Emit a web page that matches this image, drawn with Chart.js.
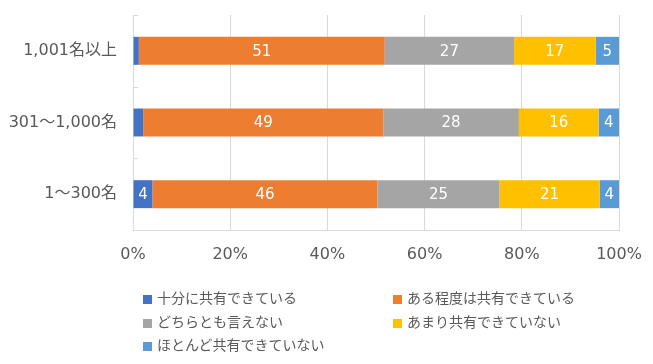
<!DOCTYPE html>
<html lang="ja">
<head>
<meta charset="utf-8">
<script src="https://cdn.jsdelivr.net/npm/chart.js@4/dist/chart.umd.min.js"></script>
<style>
    html, body { margin: 0; padding: 0; background: #fff; }
    #wrap { position: relative; width: 653px; height: 364px; }
    #legend {
        position: absolute; left: 143px; top: 286px;
        display: grid; grid-template-columns: 250px 250px; row-gap: 0;
        font: 14px "Noto Sans CJK JP", sans-serif; color: #595959;
    }
    #legend div { height: 23.5px; line-height: 23.5px; white-space: nowrap; }
    #legend span.box { display: inline-block; width: 9px; height: 9px; margin-right: 5px; vertical-align: -1px; }
</style>
</head>
<body>
<div id="wrap">
    <canvas id="chart" width="653" height="364"></canvas>
    <div id="legend"></div>
</div>
<script>
// categories (top to bottom)
const categories = ['1,001名以上', '301～1,000名', '1～300名'];

// series values, %
const fullyShared = [1.2, 2.1, 4.0];
const somewhatShared = [50.6, 49.4, 46.3];
const neither = [26.6, 27.9, 25.1];
const notMuchShared = [16.8, 16.4, 20.6];
const hardlyShared = [4.8, 4.2, 4.0];

const seriesNames = ['十分に共有できている', 'ある程度は共有できている', 'どちらとも言えない', 'あまり共有できていない', 'ほとんど共有できていない'];
const seriesColors = ['#4472C4', '#ED7D31', '#A5A5A5', '#FFC000', '#5B9BD5'];
const seriesValues = [fullyShared, somewhatShared, neither, notMuchShared, hardlyShared];

const xTicks = [0, 20, 40, 60, 80, 100];

const FONT = '"DejaVu Sans", "Noto Sans CJK JP", sans-serif';
const TEXT = '#595959';
const LINE = '#D9D9D9';

// white value labels inside the bars
const barLabels = {
    id: 'barLabels',
    afterDatasetsDraw(chart) {
        const ctx = chart.ctx;
        ctx.save();
        ctx.font = `15px ${FONT}`;
        ctx.fillStyle = '#fff';
        ctx.textAlign = 'center';
        ctx.textBaseline = 'middle';
        chart.data.datasets.forEach((ds, i) => {
            chart.getDatasetMeta(i).data.forEach((el, j) => {
                const v = ds.data[j];
                if (v < 3) return;
                ctx.fillText(String(Math.round(v)), (el.x + el.base) / 2, el.y + 1);
            });
        });
        ctx.restore();
    }
};

// short tick marks between categories, inside the plot
const catTicks = {
    id: 'catTicks',
    afterDraw(chart) {
        const y = chart.scales.y;
        const left = chart.chartArea.left;
        const step = (y.bottom - y.top) / categories.length;
        const ctx = chart.ctx;
        ctx.save();
        ctx.strokeStyle = LINE;
        ctx.lineWidth = 1;
        ctx.beginPath();
        for (let i = 0; i <= categories.length; i++) {
            const py = Math.round(y.top + i * step) + 0.5;
            ctx.moveTo(left, py);
            ctx.lineTo(left + 5, py);
        }
        ctx.stroke();
        ctx.restore();
    }
};

const chart = new Chart(document.getElementById('chart').getContext('2d'), {
    type: 'bar',
    data: {
        labels: categories,
        datasets: seriesNames.map((name, i) => ({
            label: name,
            data: seriesValues[i],
            backgroundColor: seriesColors[i],
            borderWidth: 0,
            categoryPercentage: 1,
            barPercentage: 0.39
        }))
    },
    options: {
        indexAxis: 'y',
        responsive: false,
        animation: false,
        layout: { padding: { top: 15, right: 34, left: 0, bottom: 0 } },
        plugins: { legend: { display: false }, tooltip: { enabled: false } },
        scales: {
            x: {
                stacked: true,
                min: 0, max: 100,
                afterBuildTicks(s) { s.ticks = xTicks.map(v => ({ value: v })); },
                afterFit(s) {
                    s.height = 134;
                    s.paddingLeft = 0;
                    s.paddingRight = 0;
                },
                grid: { color: LINE, drawTicks: false },
                border: { color: LINE },
                ticks: {
                    padding: 15,
                    color: TEXT,
                    font: { family: FONT, size: 16 },
                    callback: v => v + '%'
                }
            },
            y: {
                stacked: true,
                afterFit(s) {
                    s.width = 133;
                    s.paddingTop = 0;
                    s.paddingBottom = 0;
                },
                grid: { display: false, drawTicks: false },
                border: { color: LINE },
                ticks: {
                    padding: 16,
                    color: TEXT,
                    font: { family: FONT, size: 16 }
                }
            }
        }
    },
    plugins: [barLabels, catTicks]
});

// legend in two columns, built from the datasets
const legend = document.getElementById('legend');
chart.data.datasets.forEach(ds => {
    const item = document.createElement('div');
    const box = document.createElement('span');
    box.className = 'box';
    box.style.background = ds.backgroundColor;
    item.appendChild(box);
    item.appendChild(document.createTextNode(ds.label));
    legend.appendChild(item);
});
</script>
</body>
</html>
